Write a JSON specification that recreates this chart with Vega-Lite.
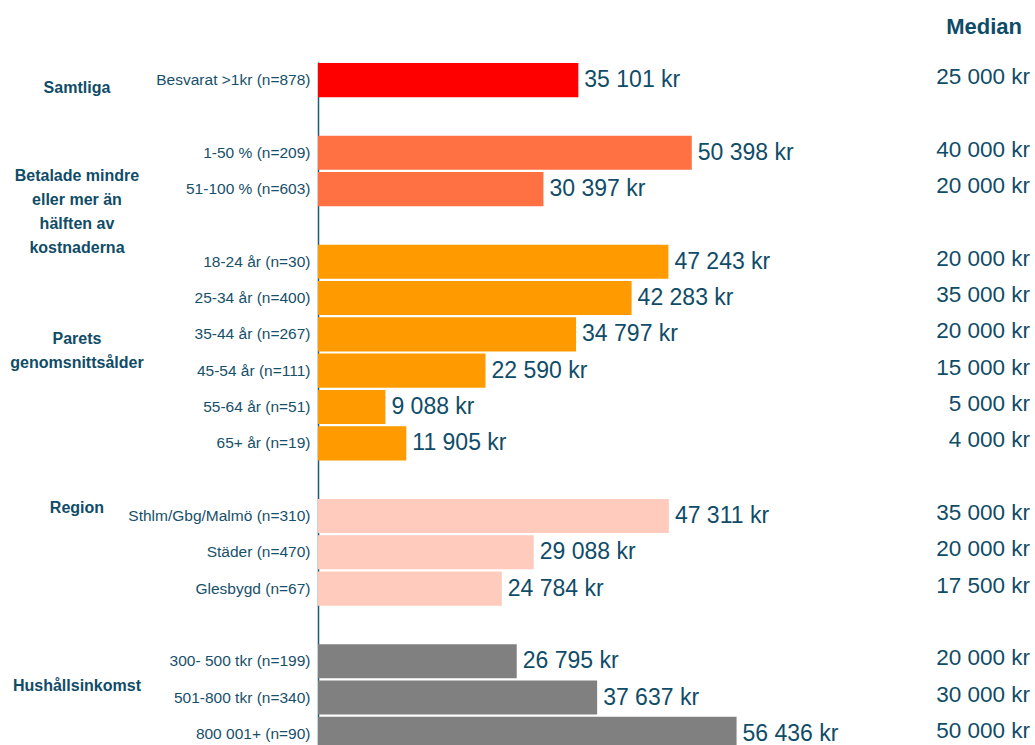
{
  "$schema": "https://vega.github.io/schema/vega-lite/v6.json",
  "width": 712,
  "height": 690,
  "autosize": {"type": "none"},
  "padding": {"left": 318, "top": 62, "right": 5, "bottom": 0},
  "background": "white",
  "title": {"text": "Median", "anchor": "end", "offset": 23, "dx": -8, "fontSize": 22, "fontWeight": "bold", "font": "Liberation Sans, Arial, sans-serif", "color": "#0f4c68"},
  "config": {
    "view": {"stroke": null},
    "locale": {"number": {"decimal": ",", "thousands": " ", "grouping": [3], "currency": ["", " kr"]}},
    "text": {"font": "Liberation Sans, Arial, sans-serif"}
  },
  "datasets": {
    "rows": [
      {"grp": "Samtliga", "label": "Besvarat >1kr (n=878)", "mean": 35101, "median": 25000},
      {"grp": "Betalade", "label": "1-50 % (n=209)", "mean": 50398, "median": 40000},
      {"grp": "Betalade", "label": "51-100 % (n=603)", "mean": 30397, "median": 20000},
      {"grp": "Ålder", "label": "18-24 år (n=30)", "mean": 47243, "median": 20000},
      {"grp": "Ålder", "label": "25-34 år (n=400)", "mean": 42283, "median": 35000},
      {"grp": "Ålder", "label": "35-44 år (n=267)", "mean": 34797, "median": 20000},
      {"grp": "Ålder", "label": "45-54 år (n=111)", "mean": 22590, "median": 15000},
      {"grp": "Ålder", "label": "55-64 år (n=51)", "mean": 9088, "median": 5000},
      {"grp": "Ålder", "label": "65+ år (n=19)", "mean": 11905, "median": 4000},
      {"grp": "Region", "label": "Sthlm/Gbg/Malmö (n=310)", "mean": 47311, "median": 35000},
      {"grp": "Region", "label": "Städer (n=470)", "mean": 29088, "median": 20000},
      {"grp": "Region", "label": "Glesbygd (n=67)", "mean": 24784, "median": 17500},
      {"grp": "Inkomst", "label": "300- 500 tkr (n=199)", "mean": 26795, "median": 20000},
      {"grp": "Inkomst", "label": "501-800 tkr (n=340)", "mean": 37637, "median": 30000},
      {"grp": "Inkomst", "label": "800 001+ (n=90)", "mean": 56436, "median": 50000}
    ],
    "groups": [
      {"name": "Samtliga", "anchor": "Besvarat >1kr (n=878)"},
      {"name": "Betalade mindre\neller mer än\nhälften av\nkostnaderna", "anchor": "51-100 % (n=603)"},
      {"name": "Parets\ngenomsnittsålder", "anchor": "35-44 år (n=267)"},
      {"name": "Region", "anchor": "Sthlm/Gbg/Malmö (n=310)"},
      {"name": "Hushållsinkomst", "anchor": "501-800 tkr (n=340)"}
    ]
  },
  "data": {"name": "rows"},
  "layer": [
    {
      "mark": {"type": "bar"},
      "encoding": {
        "y": {
          "field": "label", "type": "nominal", "sort": null, "title": null,
          "scale": {
            "domain": ["Besvarat >1kr (n=878)", " ", "1-50 % (n=209)", "51-100 % (n=603)", "  ", "18-24 år (n=30)", "25-34 år (n=400)", "35-44 år (n=267)", "45-54 år (n=111)", "55-64 år (n=51)", "65+ år (n=19)", "   ", "Sthlm/Gbg/Malmö (n=310)", "Städer (n=470)", "Glesbygd (n=67)", "    ", "300- 500 tkr (n=199)", "501-800 tkr (n=340)", "800 001+ (n=90)"],
            "paddingInner": 0.06, "paddingOuter": 0.03
          },
          "axis": {
            "ticks": false, "domainColor": "#1b5a78", "domainWidth": 1.5,
            "labelFont": "Liberation Sans, Arial, sans-serif",
            "labelFontSize": 15.5, "labelColor": "#17506a", "labelPadding": 8, "labelLimit": 300
          }
        },
        "x": {"field": "mean", "type": "quantitative", "scale": {"domain": [0, 96000], "nice": false, "zero": true}, "axis": null},
        "color": {
          "field": "grp", "type": "nominal", "legend": null,
          "scale": {"domain": ["Samtliga", "Betalade", "Ålder", "Region", "Inkomst"], "range": ["#ff0000", "#ff7043", "#ff9a00", "#ffcbbd", "#808080"]}
        }
      }
    },
    {
      "mark": {"type": "text", "align": "left", "baseline": "middle", "dx": 6, "fontSize": 23, "color": "#0f4c68"},
      "encoding": {
        "y": {"field": "label", "type": "nominal"},
        "x": {"field": "mean", "type": "quantitative"},
        "text": {"field": "mean", "type": "quantitative", "format": "$,.0f"}
      }
    },
    {
      "mark": {"type": "text", "align": "right", "baseline": "middle", "dy": -3, "fontSize": 22.5, "color": "#0f4c68"},
      "encoding": {
        "y": {"field": "label", "type": "nominal"},
        "x": {"datum": 96000, "type": "quantitative"},
        "text": {"field": "median", "type": "quantitative", "format": "$,.0f"}
      }
    },
    {
      "data": {"name": "groups"},
      "transform": [{"filter": "datum.name === 'Samtliga'"}],
      "mark": {"type": "text", "align": "center", "baseline": "middle", "dy": 8, "fontSize": 16, "fontWeight": "bold", "lineBreak": "\n", "lineHeight": 24, "color": "#0f4c68"},
      "encoding": {"y": {"field": "anchor", "type": "nominal"}, "x": {"datum": -32500, "type": "quantitative"}, "text": {"field": "name"}}
    },
    {
      "data": {"name": "groups"},
      "transform": [{"filter": "indexof(datum.name, 'Betalade') === 0"}],
      "mark": {"type": "text", "align": "center", "baseline": "middle", "dy": -13, "fontSize": 16, "fontWeight": "bold", "lineBreak": "\n", "lineHeight": 24, "color": "#0f4c68"},
      "encoding": {"y": {"field": "anchor", "type": "nominal"}, "x": {"datum": -32500, "type": "quantitative"}, "text": {"field": "name"}}
    },
    {
      "data": {"name": "groups"},
      "transform": [{"filter": "indexof(datum.name, 'Parets') === 0"}],
      "mark": {"type": "text", "align": "center", "baseline": "middle", "dy": 5, "fontSize": 16, "fontWeight": "bold", "lineBreak": "\n", "lineHeight": 24, "color": "#0f4c68"},
      "encoding": {"y": {"field": "anchor", "type": "nominal"}, "x": {"datum": -32500, "type": "quantitative"}, "text": {"field": "name"}}
    },
    {
      "data": {"name": "groups"},
      "transform": [{"filter": "datum.name === 'Region'"}],
      "mark": {"type": "text", "align": "center", "baseline": "middle", "dy": -8, "fontSize": 16, "fontWeight": "bold", "lineBreak": "\n", "lineHeight": 24, "color": "#0f4c68"},
      "encoding": {"y": {"field": "anchor", "type": "nominal"}, "x": {"datum": -32500, "type": "quantitative"}, "text": {"field": "name"}}
    },
    {
      "data": {"name": "groups"},
      "transform": [{"filter": "datum.name === 'Hushållsinkomst'"}],
      "mark": {"type": "text", "align": "center", "baseline": "middle", "dy": -12, "fontSize": 16, "fontWeight": "bold", "lineBreak": "\n", "lineHeight": 24, "color": "#0f4c68"},
      "encoding": {"y": {"field": "anchor", "type": "nominal"}, "x": {"datum": -32500, "type": "quantitative"}, "text": {"field": "name"}}
    }
  ]
}
